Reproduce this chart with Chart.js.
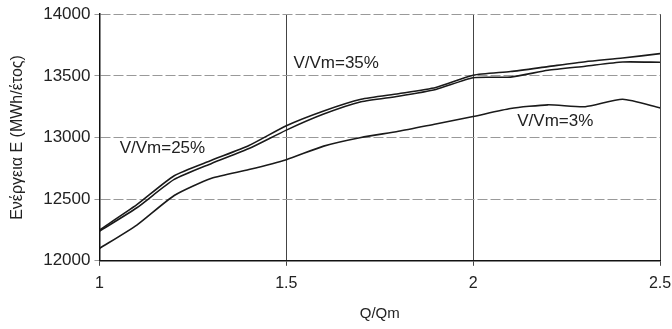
<!DOCTYPE html>
<html lang="el">
<head>
  <meta charset="UTF-8">
  <title>Ενέργεια - Q/Qm</title>
  <style>
    body {
      margin: 0;
      background: #fff;
    }
    #wrap {
      width: 672px;
      height: 329px;
    }
  </style>
  <script src="https://cdn.jsdelivr.net/npm/chart.js"></script>
</head>
<body>
  <div id="wrap"><canvas id="energyChart" width="672" height="329"></canvas></div>
  <script>
    // Q/Qm values
    const qRatio = [1.0, 1.1, 1.2, 1.3, 1.4, 1.5, 1.6, 1.7, 1.8, 1.9, 2.0, 2.1, 2.2, 2.3, 2.4, 2.5];

    // energy E (MWh/year) for each reservoir ratio
    const energy35 = [12250, 12455, 12690, 12815, 12935, 13095, 13215, 13310, 13355, 13405, 13505, 13535, 13575, 13615, 13645, 13680];
    const energy25 = [12240, 12430, 12660, 12790, 12910, 13060, 13190, 13290, 13335, 13390, 13485, 13490, 13545, 13578, 13612, 13610];
    const energy3  = [12100, 12290, 12530, 12670, 12740, 12820, 12930, 13000, 13050, 13110, 13170, 13235, 13265, 13250, 13310, 13240];

    const xTicks = [1, 1.5, 2, 2.5];
    const yTicks = [12000, 12500, 13000, 13500, 14000];

    // text labels written on the plot (data coordinates)
    const noteText = ['V/Vm=25%', 'V/Vm=35%', 'V/Vm=3%'];
    const noteX = [1.054, 1.519, 2.118];
    const noteY = [12915, 13600, 13135];

    const fontFamily = '"Liberation Sans", Arial, sans-serif';

    function toPoints(values) {
      return qRatio.map((q, i) => ({ x: q, y: values[i] }));
    }

    const notesPlugin = {
      id: 'notes',
      afterDatasetsDraw(chart) {
        const ctx = chart.ctx;
        const xs = chart.scales.x;
        const ys = chart.scales.y;
        ctx.save();
        ctx.fillStyle = '#222';
        ctx.font = '17px ' + fontFamily;
        ctx.textBaseline = 'middle';
        ctx.textAlign = 'left';
        noteText.forEach((t, i) => {
          ctx.fillText(t, xs.getPixelForValue(noteX[i]), ys.getPixelForValue(noteY[i]));
        });
        ctx.restore();
      }
    };

    const lineStyle = {
      borderColor: '#1a1a1a',
      borderWidth: 1.6,
      pointRadius: 0,
      tension: 0.2,
      fill: false
    };

    new Chart(document.getElementById('energyChart').getContext('2d'), {
      type: 'line',
      data: {
        datasets: [
          Object.assign({ label: 'V/Vm=35%', data: toPoints(energy35) }, lineStyle),
          Object.assign({ label: 'V/Vm=25%', data: toPoints(energy25) }, lineStyle),
          Object.assign({ label: 'V/Vm=3%', data: toPoints(energy3) }, lineStyle)
        ]
      },
      options: {
        responsive: false,
        animation: false,
        layout: { padding: { top: 10, right: 12, left: 8, bottom: 6 } },
        plugins: {
          legend: { display: false },
          tooltip: { enabled: false }
        },
        scales: {
          x: {
            type: 'linear',
            min: 1,
            max: 2.5,
            afterBuildTicks: axis => { axis.ticks = xTicks.map(v => ({ value: v })); },
            // let the last tick label run to the canvas edge, as in the original
            afterFit: axis => { axis.paddingRight = 0; },
            ticks: {
              color: '#222',
              font: { family: fontFamily, size: 16 },
              padding: 8,
              callback: v => String(v)
            },
            grid: {
              color: '#444',
              lineWidth: 1,
              tickLength: 5
            },
            border: { color: '#111', width: 1.5 },
            title: {
              display: true,
              text: 'Q/Qm',
              color: '#222',
              font: { family: fontFamily, size: 15 },
              padding: { top: 4, bottom: 0 }
            }
          },
          y: {
            min: 12000,
            max: 14000,
            afterBuildTicks: axis => { axis.ticks = yTicks.map(v => ({ value: v })); },
            ticks: {
              color: '#222',
              font: { family: fontFamily, size: 17 },
              padding: 4,
              callback: v => String(v)
            },
            grid: {
              color: '#999',
              lineWidth: 1,
              tickLength: 5
            },
            border: { color: '#111', width: 1.5, dash: [10, 3] },
            title: {
              display: true,
              text: 'Ενέργεια Ε (MWh/έτος)',
              color: '#222',
              font: { family: fontFamily, size: 16 },
              padding: { top: 0, bottom: 12 }
            }
          }
        }
      },
      plugins: [notesPlugin]
    });
  </script>
</body>
</html>
